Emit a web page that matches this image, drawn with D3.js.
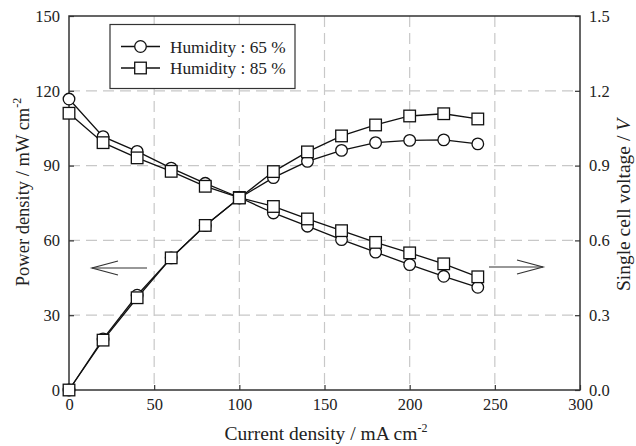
<!DOCTYPE html>
<html>
<head>
<meta charset="utf-8">
<script src="https://cdn.jsdelivr.net/npm/d3@7"></script>
<style>
  body { margin: 0; background: #fff; }
  svg text { font-family: "Liberation Serif", "Times New Roman", serif; fill: #222; }
</style>
</head>
<body>
<svg id="chart" width="636" height="446"></svg>
<script>
(() => {
    // current density (mA cm-2)
    const current = [0, 20, 40, 60, 80, 100, 120, 140, 160, 180, 200, 220, 240];

    // power density (mW cm-2)
    const power65 = [0, 20.5, 38, 53, 66, 77, 85.2, 91.7, 96.1, 99.2, 100.1, 100.3, 98.7];
    const power85 = [0, 20, 37, 53, 66, 77, 87.6, 95.5, 101.9, 106.3, 109.9, 110.8, 108.7];

    // single cell voltage (V)
    const volt65 = [1.167, 1.016, 0.957, 0.89, 0.829, 0.772, 0.71, 0.657, 0.603, 0.553, 0.503, 0.456, 0.412];
    const volt85 = [1.11, 0.992, 0.931, 0.877, 0.817, 0.772, 0.736, 0.686, 0.639, 0.592, 0.55, 0.506, 0.454];

    const seriesNames = ["Humidity : 65 %", "Humidity : 85 %"];
    const xTicks = [0, 50, 100, 150, 200, 250, 300];
    const yLeftTicks = [0, 30, 60, 90, 120, 150];
    const yRightTicks = [0, 0.3, 0.6, 0.9, 1.2, 1.5];

    const svg = d3.select("svg#chart");
    const left = 69, right = 580, top = 16, bottom = 390;

    const x = d3.scaleLinear().domain([0, 300]).range([left, right]);
    const yL = d3.scaleLinear().domain([0, 150]).range([bottom, top]);
    const yR = d3.scaleLinear().domain([0, 1.5]).range([bottom, top]);

    // grid
    const grid = svg.append("g")
        .attr("stroke", "#c8c8c8")
        .attr("stroke-width", 1.2)
        .attr("stroke-dasharray", "11,6");
    grid.selectAll("line.v")
        .data(xTicks.slice(1, -1))
        .enter().append("line")
        .attr("x1", d => x(d)).attr("x2", d => x(d))
        .attr("y1", top).attr("y2", bottom);
    grid.selectAll("line.h")
        .data(yLeftTicks.slice(1, -1))
        .enter().append("line")
        .attr("x1", left).attr("x2", right)
        .attr("y1", d => yL(d)).attr("y2", d => yL(d));

    // axes (ticks inward)
    const axisStyle = g => {
        g.select(".domain").remove();
        g.selectAll(".tick line").attr("stroke", "#333").attr("stroke-width", 1.2);
        g.selectAll(".tick text")
            .attr("font-size", 16.5)
            .attr("fill", "#222");
    };
    svg.append("g")
        .attr("transform", `translate(0,${bottom})`)
        .call(d3.axisBottom(x).tickValues(xTicks).tickSize(-5).tickPadding(8))
        .call(axisStyle);
    svg.append("g")
        .attr("transform", `translate(${left},0)`)
        .call(d3.axisLeft(yL).tickValues(yLeftTicks).tickSize(-5).tickPadding(9))
        .call(axisStyle);
    svg.append("g")
        .attr("transform", `translate(${right},0)`)
        .call(d3.axisRight(yR).tickValues(yRightTicks).tickSize(-5).tickPadding(9)
            .tickFormat(d3.format(".1f")))
        .call(axisStyle);

    svg.append("rect")
        .attr("x", left).attr("y", top)
        .attr("width", right - left).attr("height", bottom - top)
        .attr("fill", "none").attr("stroke", "#333").attr("stroke-width", 1.5);

    // curves
    const line = d3.line();
    const curves = [
        {pts: current.map((c, i) => [x(c), yR(volt65[i])]), shape: "circle"},
        {pts: current.map((c, i) => [x(c), yR(volt85[i])]), shape: "square"},
        {pts: current.map((c, i) => [x(c), yL(power65[i])]), shape: "circle"},
        {pts: current.map((c, i) => [x(c), yL(power85[i])]), shape: "square"},
    ];

    curves.forEach(c => {
        svg.append("path")
            .attr("d", line(c.pts))
            .attr("fill", "none")
            .attr("stroke", "#111")
            .attr("stroke-width", 1.3);
    });

    const drawMarker = (g, shape, px, py) => {
        if (shape === "circle") {
            g.append("circle").attr("cx", px).attr("cy", py).attr("r", 5.8)
                .attr("fill", "#fff").attr("stroke", "#111").attr("stroke-width", 1.3);
        } else {
            g.append("rect").attr("x", px - 5.8).attr("y", py - 5.8)
                .attr("width", 11.6).attr("height", 11.6)
                .attr("fill", "#fff").attr("stroke", "#111").attr("stroke-width", 1.3);
        }
    };

    curves.forEach(c => {
        const g = svg.append("g");
        c.pts.forEach(p => drawMarker(g, c.shape, p[0], p[1]));
    });

    // direction arrows
    const arrow = (x1, x2, y) => {
        const dir = Math.sign(x2 - x1);
        const g = svg.append("g").attr("stroke", "#333").attr("stroke-width", 1.2).attr("fill", "none");
        g.append("line").attr("x1", x1).attr("x2", x2).attr("y1", y).attr("y2", y);
        g.append("path").attr("d", `M${x2 - dir * 26},${y - 7}L${x2},${y}L${x2 - dir * 26},${y + 7}`);
    };
    arrow(147, 92, 268);
    arrow(489, 543, 267);

    // legend
    const legend = svg.append("g");
    legend.append("rect")
        .attr("x", 110).attr("y", 24.5)
        .attr("width", 185).attr("height", 64)
        .attr("fill", "#fff").attr("stroke", "#333").attr("stroke-width", 1.2);
    seriesNames.forEach((name, i) => {
        const ly = 46.5 + i * 21.5;
        legend.append("line")
            .attr("x1", 121).attr("x2", 160).attr("y1", ly).attr("y2", ly)
            .attr("stroke", "#111").attr("stroke-width", 1.3);
        drawMarker(legend, i === 0 ? "circle" : "square", 140.5, ly);
        legend.append("text")
            .attr("x", 170).attr("y", ly + 6)
            .attr("font-size", 17.3)
            .text(name);
    });

    // axis titles
    const xt = svg.append("text")
        .attr("x", 326).attr("y", 440)
        .attr("text-anchor", "middle")
        .attr("font-size", 19.5)
        .text("Current density / mA cm");
    xt.append("tspan").attr("dy", -8).attr("font-size", 12).text("-2");

    const yt = svg.append("text")
        .attr("transform", "translate(29,192) rotate(-90)")
        .attr("text-anchor", "middle")
        .attr("font-size", 18.5)
        .text("Power density / mW cm");
    yt.append("tspan").attr("dy", -8).attr("font-size", 12).text("-2");

    const rt = svg.append("text")
        .attr("transform", "translate(630,205) rotate(-90)")
        .attr("text-anchor", "middle")
        .attr("font-size", 19.5)
        .text("Single cell voltage / ");
    rt.append("tspan").attr("font-style", "italic").text("V");
})();
</script>
</body>
</html>
